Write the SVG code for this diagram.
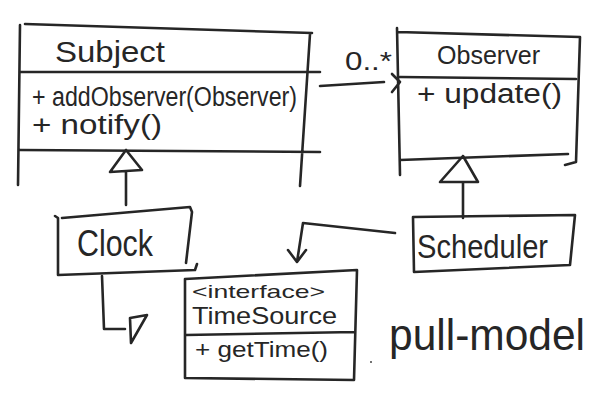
<svg xmlns="http://www.w3.org/2000/svg" width="601" height="400" viewBox="0 0 601 400">
<style>
.ln{fill:none;stroke:#262626;stroke-width:2.6;stroke-linecap:round;stroke-linejoin:round}
.t{font-family:"Liberation Sans","DejaVu Sans",sans-serif;fill:#262626}
</style>
<rect width="601" height="400" fill="#ffffff"/>
<g id="Subject">
<path class="ln" d="M25,24 L312,33 M20,25 L18,185 M310,34 L300,186 M20,72 L320,72 M20,150 L320,152"/>
<text class="t" x="55" y="62" font-size="30" textLength="110" lengthAdjust="spacingAndGlyphs">Subject</text>
<text class="t" x="32" y="106" font-size="27" textLength="265" lengthAdjust="spacingAndGlyphs">+ addObserver(Observer)</text>
<text class="t" x="32" y="134" font-size="27" textLength="130" lengthAdjust="spacingAndGlyphs">+ notify()</text>
</g>
<g id="Observer">
<path class="ln" d="M397,28 L400,175 M398,32 L580,37 M580,37 L576,162 L565,165 M400,77 L576,79 M400,160 L568,154"/>
<text class="t" x="437" y="64" font-size="25" textLength="103" lengthAdjust="spacingAndGlyphs">Observer</text>
<text class="t" x="417" y="103" font-size="27" textLength="145" lengthAdjust="spacingAndGlyphs">+ update()</text>
</g>
<g id="Clock">
<path class="ln" d="M62,218 L190,207 L192,212 L186,263 M55,216 L58,218 L58,275 L195,270 L197,264"/>
<text class="t" x="77" y="256" font-size="36" textLength="76" lengthAdjust="spacingAndGlyphs">Clock</text>
</g>
<g id="TimeSource">
<path class="ln" d="M185,279 L357,270 L354,380 L185,378 Z M186,335 L355,332"/>
<text class="t" x="192" y="298" font-size="19" textLength="133" lengthAdjust="spacingAndGlyphs">&lt;interface&gt;</text>
<text class="t" x="192" y="324" font-size="24" textLength="145" lengthAdjust="spacingAndGlyphs">TimeSource</text>
<text class="t" x="195" y="357" font-size="22" textLength="133" lengthAdjust="spacingAndGlyphs">+ getTime()</text>
</g>
<g id="Scheduler">
<path class="ln" d="M413,217 L575,215 L570,265 L414,272 Z"/>
<text class="t" x="417" y="258" font-size="34" textLength="131" lengthAdjust="spacingAndGlyphs">Scheduler</text>
</g>
<g id="note">
<text class="t" x="389" y="350" font-size="44" textLength="196" lengthAdjust="spacingAndGlyphs">pull-model</text>
<circle cx="371" cy="362" r="1" fill="#444"/>
</g>
<g id="connectors">
<path class="ln" d="M126,205 L126,172 M110,172 L142,170 L126,150 Z"/>
<path class="ln" d="M463,218 L463,182 M440,182 L478,182 L463,156 Z"/>
<path class="ln" d="M320,86 L384,82 M392,74 L400,82 L392,92"/>
<text class="t" x="345" y="70" font-size="26" textLength="47" lengthAdjust="spacingAndGlyphs">0..*</text>
<path class="ln" d="M102,276 L104,329 L125,329 M130,318 L147,315 L131,343 Z"/>
<path class="ln" d="M395,233 L303,223 L297,262 M288,250 L297,262 L306,250"/>
</g>
</svg>
